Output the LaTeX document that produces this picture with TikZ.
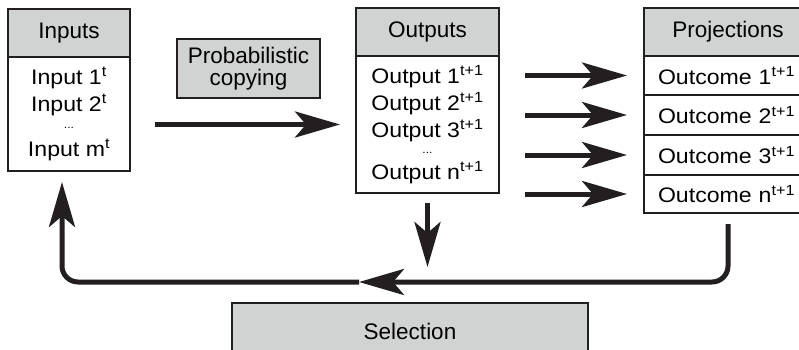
\documentclass[tikz,border=0pt]{standalone}
\usepackage{fontspec}
\setmainfont{Liberation Sans}
\newfontfamily\bodyfont[FakeStretch=1.1]{Liberation Sans}
\usetikzlibrary{positioning, arrows.meta}
\definecolor{headgray}{RGB}{209,211,210}
\definecolor{ink}{RGB}{35,31,32}

\begin{document}
\begin{tikzpicture}[x=1pt,y=-1pt,>={Stealth[length=45pt,width=26pt,inset=11pt]},
        flow/.style={->,line width=5pt,draw=ink},
        head/.style={draw=ink,line width=1.6pt,fill=headgray,inner sep=0pt,outer sep=0pt,
            font=\fontsize{22.5}{22}\selectfont},
        body/.style={draw=ink,line width=1.6pt,fill=white,inner sep=0pt,outer sep=0pt,
            align=center,font=\bodyfont\fontsize{21}{27}\selectfont},
        rowbox/.style={body,text width=140pt,inner xsep=14pt,align=left}]
    \useasboundingbox (0,0) rectangle (799,350);
    \clip (0,0) rectangle (799,350);

    % left column
    \node[head,anchor=north west,minimum width=122pt,minimum height=48pt] (inhead) at (8,9) {Inputs};
    \node[body,below=0pt of inhead,minimum width=122pt,minimum height=114pt] (inbody)
        {Input 1\textsuperscript{t}\\Input 2\textsuperscript{t}\\[-10pt]{\fontsize{11}{11}\selectfont ...}\\[1pt]Input m\textsuperscript{t}};

    \node[head,minimum width=143pt,minimum height=59pt,align=center] (copying) at (248.5,68.5) {Probabilistic\\copying};

    % middle column
    \node[head,anchor=north west,minimum width=143pt,minimum height=48pt] (outhead) at (356,8) {Outputs};
    \node[body,below=0pt of outhead,minimum width=143pt,minimum height=137pt] (outbody)
        {Output 1\textsuperscript{t+1}\\Output 2\textsuperscript{t+1}\\Output 3\textsuperscript{t+1}\\[-11pt]{\fontsize{11}{11}\selectfont ...}\\[-1pt]Output n\textsuperscript{t+1}};

    % right column
    \node[head,anchor=north west,minimum width=168pt,minimum height=48pt] (projhead) at (644,8) {Projections};
    \node[rowbox,below=0pt of projhead,minimum height=39pt] (row1) {Outcome 1\textsuperscript{t+1}};
    \node[rowbox,below=0pt of row1,minimum height=40pt] (row2) {Outcome 2\textsuperscript{t+1}};
    \node[rowbox,below=0pt of row2,minimum height=40pt] (row3) {Outcome 3\textsuperscript{t+1}};
    \node[rowbox,below=0pt of row3,minimum height=38pt] (row4) {Outcome n\textsuperscript{t+1}};

    \node[head,anchor=north,minimum width=356pt,minimum height=56pt] (selection) at (410,303) {Selection};

    \coordinate (merge) at ([yshift=-74pt]outbody.south);
    \coordinate (loopmid) at (359,282);
    \coordinate (loopend) at (62,182);

    \draw[flow] ([xshift=25pt]inbody.east |- outbody.west) -- ([xshift=-16pt]outbody.west);
    \draw[flow] ([xshift=26pt]outbody.east |- row1.west) -- ([xshift=-17pt]row1.west);
    \draw[flow] ([xshift=26pt]outbody.east |- row2.west) -- ([xshift=-17pt]row2.west);
    \draw[flow] ([xshift=26pt]outbody.east |- row3.west) -- ([xshift=-17pt]row3.west);
    \draw[flow] ([xshift=26pt]outbody.east |- row4.west) -- ([xshift=-17pt]row4.west);
    \draw[flow] ([yshift=-10pt]outbody.south) -- (merge);
    \draw[flow,rounded corners=16pt] ([yshift=-11pt]row4.south) |- (loopmid);
    \draw[flow,rounded corners=16pt] (loopmid) -| (loopend);
\end{tikzpicture}
\end{document}
